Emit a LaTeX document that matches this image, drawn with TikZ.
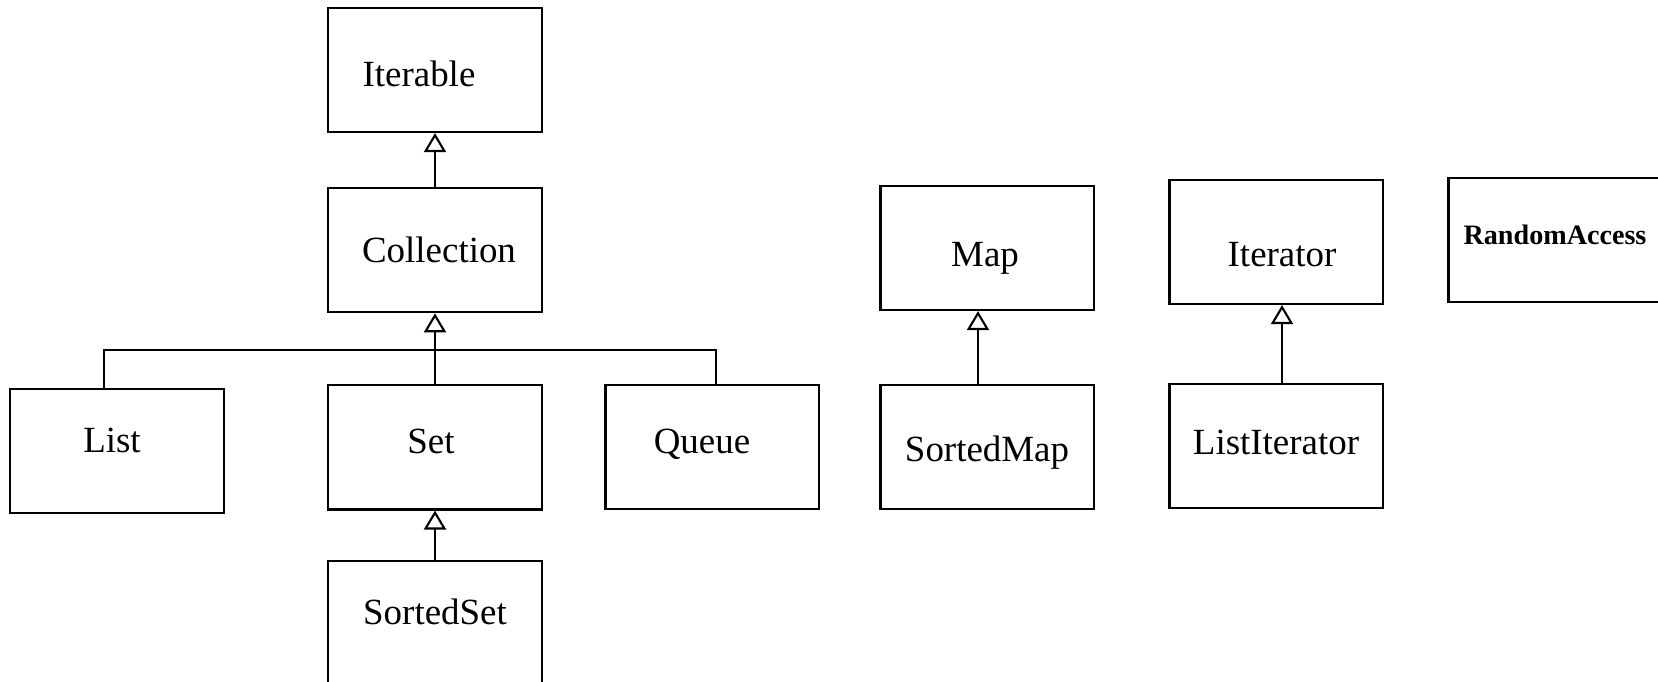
\documentclass[tikz,border=0pt]{standalone}
\usepackage{fontspec}
\setmainfont{Liberation Serif}
\usetikzlibrary{arrows.meta}
\usetikzlibrary{positioning}

\tikzset{
  iface/.style={draw, line width=0.6pt, minimum width=2.13cm, minimum height=1.24cm,
    inner sep=0pt},
  every label/.style={font=\fontsize{10.5}{12}\selectfont},
  inherits/.style={-{Triangle[open, width=0.22cm, length=0.19cm]}, line width=0.6pt},
}

\begin{document}
\begin{tikzpicture}[x=0.01cm, y=-0.01cm]
          \useasboundingbox (0,0) rectangle (1658,682);

          % collection branch
          \node[iface, label={[xshift=-1.6mm, yshift=-0.4mm]center:Iterable}] (iterable) at (435,70) {};
          \node[iface, below=0.54cm of iterable, label={[xshift=0.4mm]center:Collection}] (collection) {};
          \node[iface, below=0.71cm of collection, label={[xshift=-0.4mm, yshift=0.6mm]center:Set}] (set) {};
          \node[iface, below=0.49cm of set, label={[yshift=1.1mm]center:SortedSet}] (sortedset) {};
          \node[iface, label={[xshift=-0.5mm, yshift=1.1mm]center:List}] (list) at (117,451) {};
          \node[iface, label={[xshift=-1mm, yshift=0.3mm]center:Queue}] (queue) at (712,447) {};
          \coordinate (bus) at (435,350);

          % the others
          \node[iface, label={[xshift=-0.2mm, yshift=-1mm]center:Map}] (map) at (987,248) {};
          \node[iface, below=0.73cm of map, label={[yshift=-0.5mm]center:SortedMap}] (sortedmap) {};
          \node[iface, label={[xshift=0.6mm, yshift=-1.3mm]center:Iterator}] (iterator) at (1276,242) {};
          \node[iface, below=0.78cm of iterator, label={[yshift=0.4mm]center:ListIterator}] (listiterator) {};
          \node[iface, label={[font=\fontsize{8}{10}\selectfont\bfseries, yshift=0.5mm]center:RandomAccess}] (randomaccess) at (1555,240) {};

          \draw[inherits] (collection) -- (iterable);
          \draw[inherits] (set) -- (collection);
          \draw[inherits] (sortedset) -- (set);
          \draw[line width=0.6pt] ([xshift=-0.13cm]list.north) |- (bus) -| ([xshift=0.04cm]queue.north);
          \draw[inherits] ([xshift=-0.09cm]sortedmap.north) -- ([xshift=-0.09cm]map.south);
          \draw[inherits] ([xshift=0.06cm]listiterator.north) -- ([xshift=0.06cm]iterator.south);
        \end{tikzpicture}
\end{document}
